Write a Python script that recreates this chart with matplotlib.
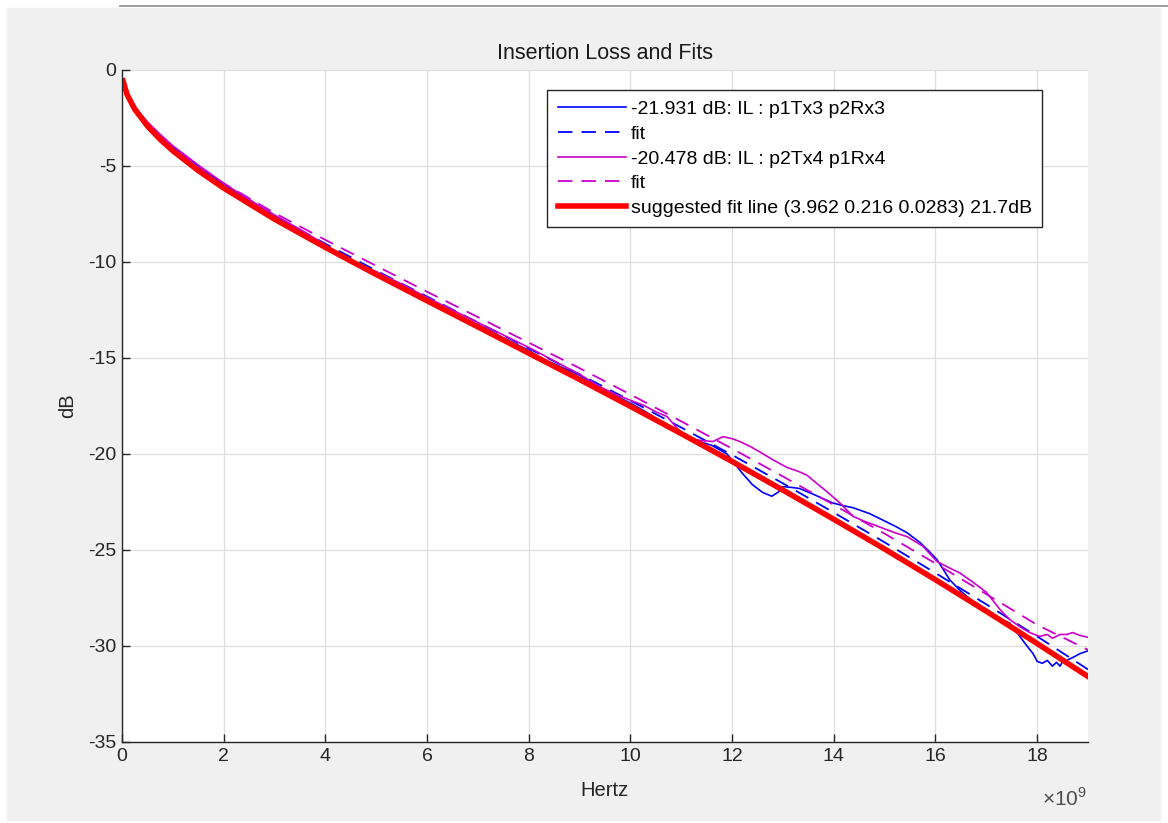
import matplotlib.pyplot as plt
import numpy as np
from matplotlib.patches import Rectangle
from matplotlib.lines import Line2D
from matplotlib.ticker import FuncFormatter

plt.rcParams['font.family'] = ['Liberation Sans', 'DejaVu Sans']
plt.rcParams['mathtext.fontset'] = 'custom'
plt.rcParams['mathtext.rm'] = 'Liberation Sans'
plt.rcParams['axes.unicode_minus'] = False

# frequencies in GHz for the smooth curves
f_fit = [0.02, 0.1, 0.25, 0.5, 0.75, 1, 1.5, 2, 3, 4, 5, 6, 7, 8, 9, 10,
         11, 12, 13, 14, 15, 16, 17, 18, 19]
suggested = [-0.57, -1.28, -2.04, -2.92, -3.61, -4.21, -5.24, -6.15, -7.77,
             -9.24, -10.65, -12.02, -13.38, -14.75, -16.12, -17.52, -18.94,
             -20.39, -21.88, -23.40, -24.95, -26.55, -28.19, -29.87, -31.59]
fit_a = [-0.5, -1.2, -1.95, -2.8, -3.5, -4.1, -5.1, -6.0, -7.6, -9.05, -10.45,
         -11.8, -13.15, -14.5, -15.85, -17.22, -18.62, -20.05, -21.53, -23.05,
         -24.6, -26.2, -27.83, -29.5, -31.22]
fit_b = [-0.5, -1.15, -1.9, -2.75, -3.42, -4.0, -5.0, -5.9, -7.45, -8.85,
         -10.2, -11.55, -12.87, -14.2, -15.53, -16.9, -18.3, -19.72, -21.17,
         -22.65, -24.15, -25.7, -27.3, -28.9, -30.2]

# measured IL p1Tx3 p2Rx3
f_a = [0.02, 0.1, 0.25, 0.5, 0.75, 1.0, 1.5, 2.0, 2.5, 3.0, 3.5, 4.0, 4.3,
       4.5, 5.0, 5.5, 6.0, 6.5, 6.8, 7.0, 7.5, 8.0, 8.3, 8.5, 9.0, 9.5, 10.0,
       10.3, 10.6, 11.0, 11.3, 11.6, 11.9, 12.02, 12.2, 12.4, 12.6, 12.78,
       12.9, 13.0, 13.2, 13.33, 13.6, 13.98, 14.2, 14.38, 14.7, 14.97, 15.2,
       15.44, 15.69, 15.85, 16.03, 16.15, 16.28, 16.48, 16.7, 17.0, 17.2,
       17.46, 17.66, 17.8, 17.92, 18.0, 18.1, 18.2, 18.3, 18.38, 18.45, 18.5,
       18.58, 18.7, 18.84, 19.0]
il_a = [-0.5, -1.2, -1.95, -2.8, -3.45, -4.0, -5.0, -5.95, -6.75, -7.6,
        -8.35, -9.15, -9.7, -10.05, -10.6, -11.2, -11.95, -12.6, -13.1,
        -13.25, -13.95, -14.6, -15.1, -15.3, -15.9, -16.7, -17.35, -17.8,
        -18.3, -18.9, -19.3, -19.55, -20.0, -20.4, -21.0, -21.6, -22.0, -22.2,
        -22.0, -21.7, -21.75, -21.8, -22.1, -22.55, -22.7, -22.8, -23.1,
        -23.45, -23.75, -24.1, -24.6, -25.0, -25.5, -26.0, -26.55, -27.1,
        -27.6, -28.1, -28.5, -28.8, -29.5, -30.0, -30.4, -30.8, -30.9, -30.75,
        -31.05, -30.85, -31.05, -30.8, -30.75, -30.6, -30.4, -30.25]

# measured IL p2Tx4 p1Rx4
f_b = [0.02, 0.1, 0.25, 0.5, 0.75, 1.0, 1.5, 2.0, 2.5, 3.0, 3.5, 4.0, 4.5,
       5.0, 5.5, 6.0, 6.5, 7.0, 7.5, 8.0, 8.5, 9.0, 9.4, 9.8, 10.25, 10.5,
       10.72, 10.9, 11.1, 11.4, 11.62, 11.82, 12.0, 12.15, 12.35, 12.55, 12.8,
       13.08, 13.3, 13.47, 13.65, 13.86, 14.12, 14.38, 14.6, 14.9, 15.2,
       15.44, 15.75, 16.03, 16.25, 16.48, 16.75, 17.0, 17.27, 17.45, 17.66,
       17.85, 18.05, 18.2, 18.3, 18.45, 18.58, 18.7, 18.84, 19.0]
il_b = [-0.5, -1.15, -1.9, -2.7, -3.35, -3.95, -4.95, -5.9, -6.75, -7.55,
        -8.3, -9.1, -9.95, -10.5, -11.15, -11.85, -12.5, -13.15, -13.8,
        -14.45, -15.15, -15.85, -16.5, -17.0, -17.45, -17.8, -18.05, -18.6,
        -19.15, -19.3, -19.35, -19.1, -19.2, -19.35, -19.6, -19.9, -20.3,
        -20.7, -20.9, -21.1, -21.5, -21.95, -22.55, -23.25, -23.5, -23.8,
        -24.1, -24.3, -24.8, -25.6, -25.9, -26.2, -26.7, -27.2, -28.1, -28.6,
        -29.0, -29.3, -29.5, -29.4, -29.6, -29.4, -29.4, -29.3, -29.45, -29.55]

labels = ['-21.931 dB: IL : p1Tx3 p2Rx3', 'fit',
          '-20.478 dB: IL : p2Tx4 p1Rx4', 'fit',
          'suggested fit line (3.962 0.216 0.0283) 21.7dB']

fig = plt.figure(figsize=(11.68, 8.23), dpi=100)
fig.patch.set_facecolor('white')
W, H = 1168, 823
fig.patches.append(Rectangle((7 / W, 1 - 820 / H), 1153 / W, 812 / H,
                             transform=fig.transFigure, color='#f0f0f0',
                             zorder=-10))
fig.lines.append(Line2D([120 / W, 1], [1 - 6 / H, 1 - 6 / H],
                        transform=fig.transFigure, color='#8c8c8c', lw=1.2))

ax = fig.add_axes([122 / W, 1 - 742 / H, 966 / W, 672 / H])
ax.set_facecolor('white')

hz = lambda f: np.array(f) * 1e9
blue = '#0000ff'
mag = '#cc00cc'
ax.plot(hz(f_a), il_a, color=blue, lw=1.2, label=labels[0])
ax.plot(hz(f_fit), fit_a, color=blue, lw=1.3, dashes=(8, 5), label=labels[1])
ax.plot(hz(f_b), il_b, color=mag, lw=1.2, label=labels[2])
ax.plot(hz(f_fit), fit_b, color=mag, lw=1.3, dashes=(8, 5), label=labels[3])
ax.plot(hz(f_fit), suggested, color='#ff0000', lw=4, label=labels[4])

ax.set_xlim(0, 19e9)
ax.set_ylim(-35, 0)
ax.set_xticks(hz(range(0, 19, 2)))
ax.set_yticks(range(-35, 1, 5))
ax.xaxis.set_major_formatter(FuncFormatter(lambda v, p: f'{v / 1e9:g}'))
fig.text(1087 / W, 1 - 798 / H, r'$\times10^{9}$', ha='right', va='center',
         fontsize=15, color='#4d4d4d')

ax.grid(True, color='#dedede', lw=0.9)
ax.set_axisbelow(True)
for s in ['top', 'right']:
    ax.spines[s].set_visible(False)
for s in ['left', 'bottom']:
    ax.spines[s].set_color('#262626')
    ax.spines[s].set_linewidth(1.0)
ax.tick_params(direction='in', length=6, width=1.0, colors='#262626',
               labelsize=14, pad=4)

ax.set_title('Insertion Loss and Fits', fontsize=15.5, color='#1a1a1a', pad=8)
ax.set_xlabel('Hertz', fontsize=14.5, color='#262626', labelpad=12)
ax.set_ylabel('dB', fontsize=14.5, color='#262626', labelpad=8)

leg = ax.legend(loc='upper left', bbox_to_anchor=(425 / 966, 1 - 20 / 672),
                fontsize=14, handlelength=3.5, handletextpad=0.25,
                labelspacing=0.36, borderpad=0.55, fancybox=False,
                framealpha=1, edgecolor='#262626', borderaxespad=0)
leg.get_frame().set_linewidth(1.0)

fig.savefig('out.png', dpi=100)
